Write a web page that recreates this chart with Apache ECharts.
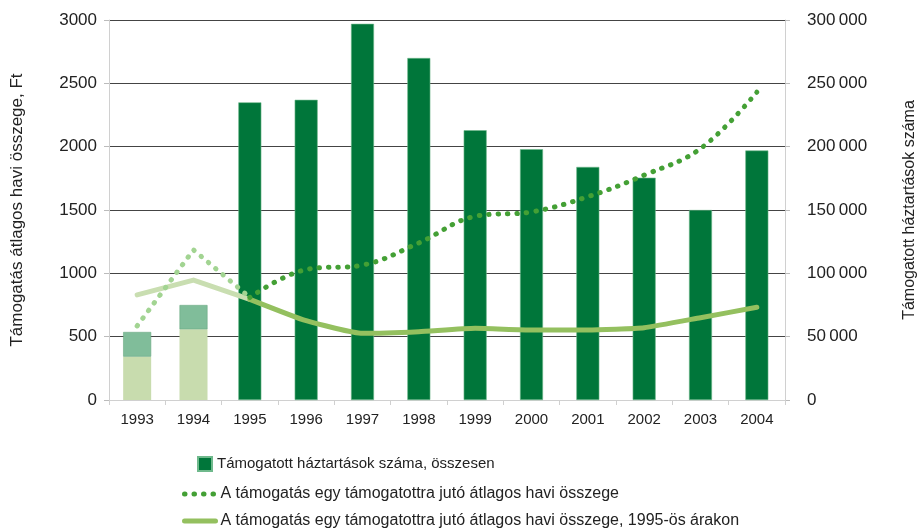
<!DOCTYPE html>
<html>
<head>
<meta charset="utf-8">
<script src="https://cdn.jsdelivr.net/npm/echarts@6/dist/echarts.min.js"></script>
<style>
    html, body { margin: 0; padding: 0; background: #fff; }
    #main { width: 919px; height: 530px; }
</style>
</head>
<body>
<div id="main"></div>
<script>
    // years on the category axis
    var years = ['1993', '1994', '1995', '1996', '1997', '1998', '1999', '2000', '2001', '2002', '2003', '2004'];

    // bars, right axis (households)
    var households = [null, null, 235000, 237000, 297000, 270000, 213000, 198000, 184000, 175500, 150000, 197000];
    // 1993-1994 bars are split in two parts
    var householdsEarlyLower = [34200, 55800, null, null, null, null, null, null, null, null, null, null];
    var householdsEarlyUpper = [19500, 19200, null, null, null, null, null, null, null, null, null, null];

    // lines, left axis (Ft)
    var avgNominalEarly = [585, 1185, 810, null, null, null, null, null, null, null, null, null];
    var avgNominal = [null, null, 810, 1030, 1065, 1240, 1450, 1485, 1605, 1775, 1985, 2430];
    var avgRealEarly = [830, 947, 795, null, null, null, null, null, null, null, null, null];
    var avgReal = [null, null, 795, 626, 526, 539, 566, 553, 553, 571, 650, 732];

    var leftTicks = { min: 0, max: 3000, interval: 500 };
    var rightTicks = { min: 0, max: 300000, interval: 50000 };

    var nameBars = 'Támogatott háztartások száma, összesen';
    var nameNominal = 'A támogatás egy támogatottra jutó átlagos havi összege';
    var nameReal = 'A támogatás egy támogatottra jutó átlagos havi összege, 1995-ös árakon';

    var font = 'Liberation Sans';
    var textColor = '#222';
    var dots = [0.5, 9];

    function spaced(v) {
        return String(v).replace(/\B(?=(\d{3})+$)/g, '\u2009');
    }

    var chart = echarts.init(document.getElementById('main'));
    chart.setOption({
        animation: false,
        textStyle: { fontFamily: font, color: textColor },
        grid: { left: 109, right: 134, top: 20, bottom: 130, outerBoundsMode: 'none' },
        legend: [{
            left: 192, top: 451, padding: 5, itemWidth: 14, itemHeight: 14,
            textStyle: { fontSize: 15, color: textColor, fontFamily: font },
            data: [{ name: nameBars, icon: 'rect' }]
        }, {
            left: 177, top: 481, itemWidth: 31, itemHeight: 14,
            textStyle: { fontSize: 16, color: textColor, fontFamily: font },
            itemStyle: { opacity: 0 },
            lineStyle: { width: 5, type: dots, cap: 'round', color: '#44a035' },
            data: [nameNominal]
        }, {
            left: 177, top: 508, itemWidth: 31, itemHeight: 14,
            textStyle: { fontSize: 16, color: textColor, fontFamily: font },
            itemStyle: { opacity: 0 },
            lineStyle: { width: 5, cap: 'round', color: '#94c05f' },
            data: [nameReal]
        }],
        xAxis: [{
            type: 'category',
            data: years,
            axisLine: { lineStyle: { color: '#d0d0d0' } },
            axisTick: { show: true, length: 5, lineStyle: { color: '#d0d0d0' } },
            axisLabel: { fontSize: 15, color: textColor, margin: 12 }
        }, {
            // hidden copy so the wider early bars are centred by themselves
            type: 'category',
            data: years,
            show: false
        }],
        yAxis: [{
            type: 'value',
            min: leftTicks.min, max: leftTicks.max, interval: leftTicks.interval,
            name: 'Támogatás átlagos havi összege, Ft',
            nameLocation: 'middle', nameGap: 83, nameRotate: 90,
            nameTextStyle: { fontSize: 17, color: textColor },
            axisLine: { show: true, lineStyle: { color: '#d0d0d0' } },
            axisTick: { show: true, length: 5, lineStyle: { color: '#bbb' } },
            axisLabel: { fontSize: 17, color: textColor, margin: 12, formatter: function (v) { return String(v); } },
            splitLine: { lineStyle: { color: '#444', width: 1 } }
        }, {
            type: 'value',
            min: rightTicks.min, max: rightTicks.max, interval: rightTicks.interval,
            name: 'Támogatott háztartások száma',
            nameLocation: 'middle', nameGap: 117, nameRotate: 90,
            nameTextStyle: { fontSize: 16, color: textColor },
            axisLine: { show: true, lineStyle: { color: '#d0d0d0' } },
            axisTick: { show: true, length: 5, lineStyle: { color: '#bbb' } },
            axisLabel: { fontSize: 17, color: textColor, margin: 22, formatter: spaced },
            splitLine: { show: false }
        }],
        series: [{
            name: nameBars,
            type: 'bar',
            yAxisIndex: 1,
            barWidth: 23,
            data: households,
            itemStyle: { color: '#00763a', borderColor: '#6fb98c', borderWidth: 0.6 },
            z: 2
        }, {
            name: 'early lower',
            type: 'bar',
            xAxisIndex: 1,
            yAxisIndex: 1,
            stack: 'early',
            barWidth: 28,
            data: householdsEarlyLower,
            itemStyle: { color: '#c8dcae' },
            z: 2
        }, {
            name: 'early upper',
            type: 'bar',
            xAxisIndex: 1,
            yAxisIndex: 1,
            stack: 'early',
            barWidth: 28,
            data: householdsEarlyUpper,
            itemStyle: { color: '#80bd9a', borderColor: '#6aa982', borderWidth: 0.6 },
            z: 2
        }, {
            name: 'real early',
            type: 'line',
            data: avgRealEarly,
            symbol: 'none',
            lineStyle: { color: '#c9deb1', width: 5, cap: 'round', join: 'round' },
            z: 3
        }, {
            name: nameReal,
            type: 'line',
            data: avgReal,
            symbol: 'none',
            smooth: 0.15,
            itemStyle: { color: '#94c05f' },
            lineStyle: { color: '#94c05f', width: 5, cap: 'round', join: 'round' },
            z: 4
        }, {
            name: 'nominal early',
            type: 'line',
            data: avgNominalEarly,
            symbol: 'none',
            lineStyle: { color: '#a2d492', width: 5, type: dots, cap: 'round' },
            z: 5
        }, {
            name: nameNominal,
            type: 'line',
            data: avgNominal,
            symbol: 'none',
            smooth: 0.4,
            itemStyle: { color: '#44a035' },
            lineStyle: { color: '#44a035', width: 5, type: dots, cap: 'round' },
            z: 6
        }]
    });
</script>
</body>
</html>
